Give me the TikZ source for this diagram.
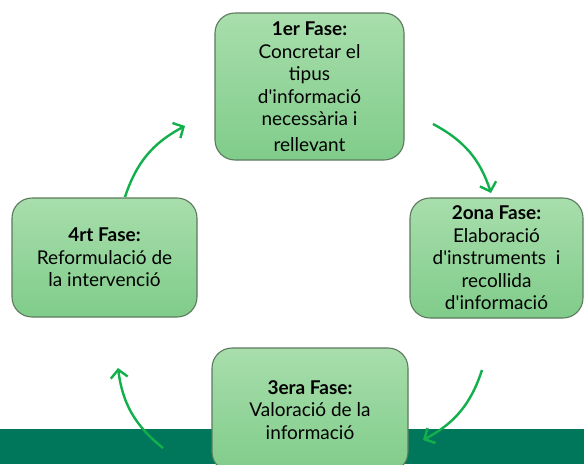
\documentclass[tikz,border=0pt]{standalone}
\usepackage{fontspec}
\setmainfont{Lato}
\usetikzlibrary{arrows.meta}
\definecolor{band}{HTML}{00775B}
\definecolor{boxtop}{HTML}{A8DEAC}
\definecolor{boxbot}{HTML}{80CC8A}
\definecolor{boxline}{HTML}{5C7A5E}
\definecolor{arr}{HTML}{12B04C}
\newcommand{\apo}{\textquotesingle}
\tikzset{
  phase/.style={draw=boxline, line width=1.1pt, rounded corners=20pt,
    top color=boxtop, bottom color=boxbot, align=center,
    font=\fontsize{19}{22.5}\selectfont, inner sep=0pt},
  cyc/.style={draw=arr, line width=2.4pt,
    -{Straight Barb[length=8pt,width=17pt,line width=2.4pt]}, bend left=22}
}
\begin{document}
\begin{tikzpicture}[x=1pt,y=-1pt]
\useasboundingbox (0,0) rectangle (584,464);
\clip (0,0) rectangle (584,464);
\fill[white] (0,0) rectangle (584,464);
\fill[band] (0,429) rectangle (584,464);
\node[phase, minimum width=189pt, minimum height=147pt] (p1) at (309.5,86.5)
  {\textbf{1er Fase:}\\Concretar el\\tipus\\d\apo informació\\necessària i\\[3pt]rellevant};
\node[phase, minimum width=173pt, minimum height=120pt] (p2) at (496.5,258)
  {\textbf{2ona Fase:}\\Elaboració\\d\apo instruments\ \ i\\recollida\\d\apo informació};
\node[phase, minimum width=196pt, minimum height=124pt] (p3) at (310,410)
  {\textbf{3era Fase:}\\Valoració de la\\informació};
\node[phase, minimum width=185pt, minimum height=119pt] (p4) at (104.5,257.5)
  {\textbf{4rt Fase:}\\Reformulació de\\la intervenció};
\coordinate (a1s) at (433,124); \coordinate (a1e) at (491,193);
\coordinate (a2s) at (482,370); \coordinate (a2e) at (423,440);
\coordinate (a3s) at (163,448); \coordinate (a3e) at (118,368);
\coordinate (a4s) at (125,197); \coordinate (a4e) at (185,126);
\draw[cyc] (a1s) to (a1e);
\draw[cyc] (a2s) to (a2e);
\draw[cyc] (a3s) to (a3e);
\draw[cyc] (a4s) to (a4e);
\end{tikzpicture}
\end{document}
